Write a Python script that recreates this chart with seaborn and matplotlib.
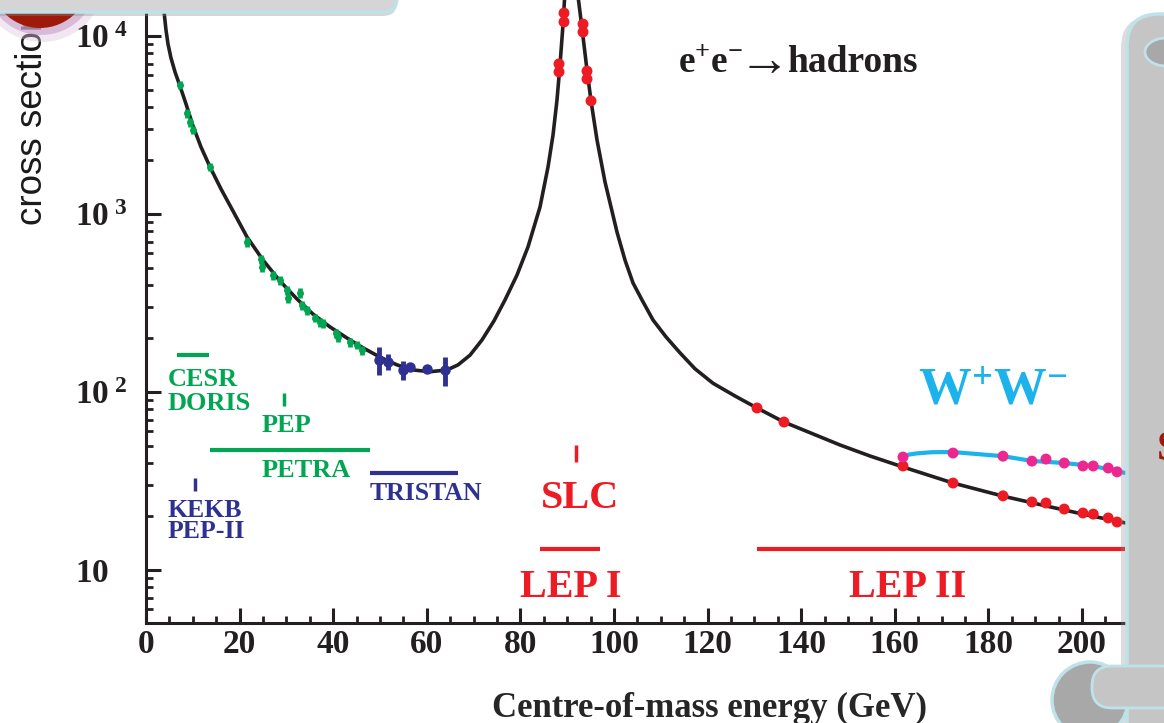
import numpy as np
import pandas as pd
import matplotlib
matplotlib.use("Agg")
import matplotlib.pyplot as plt
import matplotlib.transforms as mtransforms
from matplotlib.patches import FancyBboxPatch, Circle, Ellipse
from matplotlib.ticker import FixedLocator, FixedFormatter, MultipleLocator, LogLocator, NullFormatter
import seaborn as sns

# ---------------- data ----------------
curve_E = [3.63, 3.95, 4.27, 4.70, 5.34, 6.20, 7.26, 8.55, 10.04, 11.75, 13.68, 16.03,
           18.59, 21.58, 25.00, 28.63, 32.26, 35.68, 39.32, 42.95, 46.37, 50.00, 53.63,
           57.05, 60.68, 64.32, 66.67, 69.23, 71.79, 74.36, 76.71, 79.27, 81.62, 84.19,
           85.90, 86.97, 87.82, 88.46, 89.10, 89.42, 91.2, 92.41, 93.16, 94.23, 95.09,
           96.37, 98.08, 100.64, 102.35, 104.06, 105.98, 108.33, 111.11, 114.10, 117.31,
           121.15, 125.85, 130.56, 136.32, 148.29, 154.70, 161.75, 172.44, 183.12,
           192.31, 200.21, 209.19]
curve_sigma = [15930, 12954, 10807, 9018, 7524, 6279, 5237, 4150, 3122, 2379, 1837, 1382,
               1039, 743, 551, 420, 333, 274, 232, 201, 177, 157, 142,
               133, 130, 133, 142, 161, 196, 251, 329, 454, 653, 1095,
               1837, 2779, 4370, 6874, 11530, 15930, 30000, 15930, 11090, 6442, 4313,
               2604, 1513, 792, 551, 410, 329, 254, 204, 166, 135,
               112, 95.0, 81.3, 67.8, 50.4, 43.7, 37.9, 30.8, 26.0,
               22.9, 20.6, 18.4]

green_E = [7.26, 8.76, 9.40, 10.04, 13.68, 21.58, 24.57, 24.79, 27.14, 28.63, 30.13, 30.34,
           32.91, 33.33, 34.40, 36.11, 37.18, 37.82, 40.60, 41.03, 43.59, 45.09, 46.15]
green_sigma = [5310, 3690, 3290, 2965, 1836, 697, 558, 504, 454, 426, 374, 337,
               360, 308, 289, 261, 247, 244, 214, 204, 191, 184, 172]
green_err = [280, 220, 190, 150, 100, 42, 34, 30, 27, 25, 22, 20,
             22, 18, 17, 15, 14, 14, 12, 12, 11, 10, 10]

tristan_E = [49.8, 51.7, 54.9, 56.4, 60.0, 63.9]
tristan_sigma = [152, 148, 133, 138, 135, 133]
tristan_err = [28, 15, 16, 5, 6, 25]

lep1_E = [88.25, 88.25, 89.32, 89.32, 93.38, 93.38, 94.23, 94.23, 95.09]
lep1_sigma = [6970, 6280, 13460, 11990, 11670, 10520, 6350, 5730, 4320]

lep2_E = [130.56, 136.32, 161.75, 172.44, 183.12, 189.3, 192.3, 196.2, 200.2, 202.4, 205.6, 207.5]
lep2_sigma = [81.3, 67.8, 38.4, 30.8, 26.1, 24.1, 23.8, 22.0, 20.9, 20.6, 19.6, 18.6]

ww_E = [161.75, 172.44, 183.12, 189.3, 192.3, 196.2, 200.2, 202.4, 205.6, 207.5]
ww_sigma = [43.1, 45.4, 43.6, 40.9, 42.0, 39.9, 38.4, 38.4, 37.4, 35.6]
ww_curve_E = [161.5, 163.0, 164.7, 168.0, 172.4, 183.1, 189.3, 196.2, 202.4, 209.2]
ww_curve_sigma = [43.1, 44.5, 45.2, 45.9, 46.0, 43.6, 41.0, 39.9, 38.4, 35.1]

# collider energy ranges (GeV)
cesr_doris_E = [6.6, 13.5]
petra_E = [13.7, 47.9]
tristan_range_E = [47.9, 66.7]
lep1_range_E = [84.2, 97.0]
lep2_range_E = [130.6, 209.2]
pep_E = 29.5
kekb_E = 10.5
slc_E = 91.9

ytick_vals = [10, 100, 1000, 10000]
ytick_labels = [r'$10$', r'$10^{\,\,2}$', r'$10^{\,\,3}$', r'$10^{\,\,4}$']

# ---------------- style ----------------
INK = '#231f20'
GREEN = '#00a651'
NAVY = '#2e3192'
RED = '#ed1c24'
CYAN = '#1cb3ec'
MAGENTA = '#ec2890'

sns.set_theme(style="white")
plt.rcParams['font.family'] = ['Liberation Serif', 'DejaVu Serif']
plt.rcParams['font.weight'] = 'bold'
plt.rcParams['mathtext.fontset'] = 'custom'
plt.rcParams['mathtext.rm'] = 'Liberation Serif:bold'
plt.rcParams['mathtext.bf'] = 'Liberation Serif:bold'
plt.rcParams['mathtext.it'] = 'Liberation Serif:italic:bold'
plt.rcParams['text.color'] = INK

W, H = 1164, 723
fig = plt.figure(figsize=(W / 100, H / 100), dpi=100)
fig.patch.set_facecolor('white')
pix = mtransforms.Affine2D().scale(1, -1).translate(0, H)   # pixel coords, y from top

AX_L, AX_R, AX_B = 146, 1150, 623
PX_PER_GEV = 4.68
ax = fig.add_axes([AX_L / W, (H - AX_B) / H, (AX_R - AX_L) / W, AX_B / H])
ax.set_facecolor('white')
ax.set_yscale('log')
ax.set_xlim(0, (AX_R - AX_L) / PX_PER_GEV)
ax.set_ylim(10 ** (1 - (AX_B - 570) / 178), 10 ** (1 + 570 / 178))

# main curve
sns.lineplot(x=curve_E, y=curve_sigma, sort=False, color=INK, lw=2.6, ax=ax, zorder=3)
# WW curve
sns.lineplot(x=ww_curve_E, y=ww_curve_sigma, sort=False, color=CYAN, lw=3.0, ax=ax, zorder=3)

# green & blue measurements
ax.errorbar(green_E, green_sigma, yerr=green_err, fmt='o', ms=4, color=GREEN,
            elinewidth=3.4, capsize=0, zorder=4)
ax.errorbar(tristan_E, tristan_sigma, yerr=tristan_err, fmt='o', ms=6.5, color=NAVY,
            elinewidth=3.5, capsize=0, zorder=4)

# LEP points
sns.scatterplot(x=lep1_E, y=lep1_sigma, color=RED, s=62, edgecolor='none', ax=ax, zorder=5)
sns.scatterplot(x=lep2_E, y=lep2_sigma, color=RED, s=62, edgecolor='none', ax=ax, zorder=5)
sns.scatterplot(x=ww_E, y=ww_sigma, color=MAGENTA, s=62, edgecolor='none', ax=ax, zorder=5)

# collider range markers (x in GeV, y in pixels)
bl = mtransforms.blended_transform_factory(ax.transData, pix)
ax.plot(cesr_doris_E, [355, 355], color=GREEN, lw=3, transform=bl, solid_capstyle='butt')
ax.plot(petra_E, [450, 450], color=GREEN, lw=3, transform=bl, solid_capstyle='butt')
ax.plot([pep_E, pep_E], [393, 406], color=GREEN, lw=2.5, transform=bl, solid_capstyle='butt')
ax.plot(tristan_range_E, [473, 473], color=NAVY, lw=3, transform=bl, solid_capstyle='butt')
ax.plot([kekb_E, kekb_E], [478, 491], color=NAVY, lw=2.5, transform=bl, solid_capstyle='butt')
ax.plot([slc_E, slc_E], [445, 462], color=RED, lw=2.5, transform=bl, solid_capstyle='butt')
ax.plot(lep1_range_E, [549, 549], color=RED, lw=3, transform=bl, solid_capstyle='butt')
ax.plot(lep2_range_E, [549, 549], color=RED, lw=3, transform=bl, solid_capstyle='butt')

def label(x, y, s, color, size, ha='left', weight='bold', **kw):
    ax.text(x, y, s, color=color, fontsize=size, fontweight=weight, ha=ha, va='baseline',
            transform=pix, zorder=6, **kw)

label(168, 386, 'CESR', GREEN, 19)
label(168, 410, 'DORIS', GREEN, 19)
label(262, 432, 'PEP', GREEN, 19)
label(262, 477, 'PETRA', GREEN, 19)
label(370, 500, 'TRISTAN', NAVY, 18.5)
label(168, 517, 'KEKB', NAVY, 18.5)
label(168, 538, 'PEP-II', NAVY, 18.5)
label(580, 508, 'SLC', RED, 29, ha='center')
label(571, 597, 'LEP I', RED, 29, ha='center')
label(908, 597, 'LEP II', RED, 29, ha='center')
label(918, 405, r'$\mathrm{W^{+}W^{-}}$', CYAN, 38)
# title: e+e- -> hadrons
label(743, 72, r'$\mathrm{e^{+}e^{-}}$', INK, 27, ha='right')
label(764, 74, '\u2192', INK, 37, ha='center', weight='normal',
      fontfamily=['Liberation Serif', 'DejaVu Serif'])
label(787, 72, 'hadrons', INK, 27, ha='left')

# axes styling
for s in ('top', 'right'):
    ax.spines[s].set_visible(False)
for s in ('left', 'bottom'):
    ax.spines[s].set_linewidth(2.2)
    ax.spines[s].set_color(INK)

ax.yaxis.set_major_locator(FixedLocator(ytick_vals))
ax.yaxis.set_major_formatter(FixedFormatter(ytick_labels))
ax.yaxis.set_minor_locator(LogLocator(base=10, subs=np.arange(2, 10), numticks=20))
ax.yaxis.set_minor_formatter(NullFormatter())
ax.xaxis.set_major_locator(MultipleLocator(20))
ax.xaxis.set_minor_locator(MultipleLocator(5))
ax.tick_params(which='both', direction='in', top=False, right=False, left=True, bottom=True,
               color=INK, labelcolor=INK)
ax.tick_params(which='major', length=11, width=2.2)
ax.tick_params(which='minor', length=5, width=2)
ax.tick_params(axis='x', labelsize=24, pad=4)
ax.tick_params(axis='y', labelsize=24, pad=51)

ax.set_xlabel('Centre-of-mass energy (GeV)', fontsize=25, fontweight='bold', va='baseline')
ax.xaxis.set_label_coords((710 - AX_L) / (AX_R - AX_L), (AX_B - 717) / AX_B)
ax.set_ylabel('cross section (pb)', fontsize=26.5, fontweight='normal', family='Liberation Sans',
              ha='left', va='baseline', color='#1a1a1a')
ax.yaxis.set_label_coords((42 - AX_L) / (AX_R - AX_L), (AX_B - 225) / AX_B)

# ---------------- slide decorations ----------------
def deco(p, z):
    p.set_transform(pix)
    p.set_zorder(z)
    fig.add_artist(p)

deco(Circle((42, -20), 62, fc='#dcc3dc', ec='none', alpha=0.4), 10)
deco(Circle((41, -21), 56, fc='#c597c5', ec='none', alpha=0.55), 10)
deco(Circle((40, -22), 50, fc='#9e1a0b', ec='none'), 11)
deco(FancyBboxPatch((-30, -36), 427, 52, boxstyle='round,pad=0,rounding_size=14',
                    fc='#8c8c8c', ec='none', alpha=0.35), 12)
deco(FancyBboxPatch((-30, -40), 427, 52, boxstyle='round,pad=0,rounding_size=14',
                    fc='#d5d5d5', ec='#bfe2e8', lw=2.5), 13)
deco(FancyBboxPatch((1121, 16), 100, 760, boxstyle='round,pad=0,rounding_size=32',
                    fc='#8c8c8c', ec='none', alpha=0.3), 14)
deco(FancyBboxPatch((1127, 14), 100, 760, boxstyle='round,pad=0,rounding_size=32',
                    fc='#c5c5c5', ec='#bfe2e8', lw=2.5), 15)
deco(Ellipse((1166, 52), 42, 28, fc='#a8a8a8', ec='#bfe2e8', lw=2), 16)
deco(Circle((1090, 700), 38, fc='#a8a8a8', ec='#bfe2e8', lw=2.5), 16)
deco(FancyBboxPatch((1092, 666), 90, 42, boxstyle='round,pad=0,rounding_size=20',
                    fc='#c5c5c5', ec='#bfe2e8', lw=2), 17)
fig.text(1157, 460, 'S', color='#9b1b0a', fontsize=30, fontweight='bold', ha='left',
         va='baseline', transform=pix, zorder=18)

for lab in ax.get_yticklabels():
    lab.set_ha('left')

fig.savefig('out.png', dpi=100)
